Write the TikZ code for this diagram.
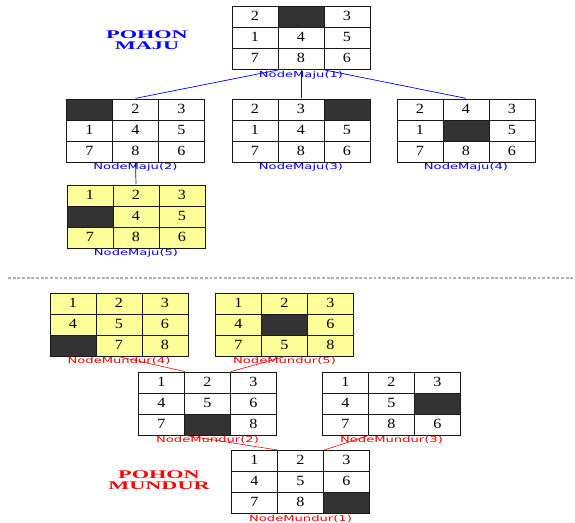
\documentclass[tikz,border=0pt]{standalone}
\usepackage{fontspec}
\setmainfont{Liberation Serif}
\newfontfamily\digitfont[FakeStretch=1.15]{Liberation Serif}
\newfontfamily\labelfont[FakeStretch=1.6]{DejaVu Sans}
\newfontfamily\titlefont[FakeStretch=1.9]{Liberation Serif}
\definecolor{puzyellow}{RGB}{255, 255, 153}
\definecolor{puzhole}{RGB}{51, 51, 51}
\definecolor{puzline}{RGB}{25, 25, 25}
\usetikzlibrary{matrix, positioning}
\tikzset{
  tile/.style = {
    rectangle,
    draw=puzline,
    fill=white,
    line width=0.7pt,
    minimum width=1.38cm,
    minimum height=0.63cm,
    text height=1.6ex,
    text depth=0.2ex,
    anchor=center,
    inner sep=0pt,
    font=\digitfont\fontsize{12}{13}\selectfont
  },
  hole/.style = {
    fill=puzhole
  },
  board/.style = {
    matrix of nodes,
    nodes={tile},
    column sep=-0.7pt,
    row sep=-0.7pt,
    inner sep=0pt
  },
  goalboard/.style = {
    board,
    nodes={fill=puzyellow}
  },
  majulabel/.style = {
    text=blue,
    font=\labelfont\fontsize{7}{7.5}\selectfont,
    inner sep=0.6pt
  },
  mundlabel/.style = {
    text=red,
    font=\labelfont\fontsize{7}{7.5}\selectfont,
    inner sep=0.6pt
  },
  majuedge/.style = {
    draw=blue,
    line width=0.6pt
  },
  mundedge/.style = {
    draw=red,
    line width=0.5pt
  },
  treetitle/.style = {
    font=\titlefont\bfseries\fontsize{10}{9.5}\selectfont,
    align=center,
    inner sep=0pt
  }
}
\begin{document}
\begin{tikzpicture}[x=0.03cm, y=0.03cm]
  \useasboundingbox (0, 0) rectangle (575, -523);

  % Pohon maju
  \node[treetitle, text=blue] (majutitle) at (147, -40) {POHON\\MAJU};

  \matrix (m1) [board] at (301, -38) {
    2 & |[hole]| & 3 \\
    1 & 4 & 5 \\
    7 & 8 & 6 \\
  };
  \matrix (m2) [board] at (135.5, -130.5) {
    |[hole]| & 2 & 3 \\
    1 & 4 & 5 \\
    7 & 8 & 6 \\
  };
  \matrix (m3) [board] at (301, -130.5) {
    2 & 3 & |[hole]| \\
    1 & 4 & 5 \\
    7 & 8 & 6 \\
  };
  \matrix (m4) [board] at (466, -130.5) {
    2 & 4 & 3 \\
    1 & |[hole]| & 5 \\
    7 & 8 & 6 \\
  };
  \matrix (m5) [goalboard] at (136, -216.5) {
    1 & 2 & 3 \\
    |[hole]| & 4 & 5 \\
    7 & 8 & 6 \\
  };

  \node[majulabel, below=0pt of m1] (m1lbl) {NodeMaju(1)};
  \node[majulabel, below=0pt of m2] (m2lbl) {NodeMaju(2)};
  \node[majulabel, below=0pt of m3] (m3lbl) {NodeMaju(3)};
  \node[majulabel, below=0pt of m4] (m4lbl) {NodeMaju(4)};
  \node[majulabel, below=0pt of m5] (m5lbl) {NodeMaju(5)};

  \draw[majuedge] (m2.north) -- (m1-3-1.south east);
  \draw[majuedge] (m3.north) -- (m1.south);
  \draw[majuedge] (m4.north) -- (m1-3-2.south east);
  \draw[majuedge] (m5.north) -- (m2.south);

  % Pemisah
  \draw[gray!60, line width=1.2pt, dash pattern=on 2.5pt off 1.5pt] (8, -278) -- (575, -278);

  % Pohon mundur
  \node[treetitle, text=red] (mundtitle) at (159, -480) {POHON\\MUNDUR};

  \matrix (u4) [goalboard] at (119, -324.5) {
    1 & 2 & 3 \\
    4 & 5 & 6 \\
    |[hole]| & 7 & 8 \\
  };
  \matrix (u5) [goalboard] at (284.5, -324.5) {
    1 & 2 & 3 \\
    4 & |[hole]| & 6 \\
    7 & 5 & 8 \\
  };
  \matrix (u2) [board] at (207.5, -403.5) {
    1 & 2 & 3 \\
    4 & 5 & 6 \\
    7 & |[hole]| & 8 \\
  };
  \matrix (u3) [board] at (391.5, -403.5) {
    1 & 2 & 3 \\
    4 & 5 & |[hole]| \\
    7 & 8 & 6 \\
  };
  \matrix (u1) [board] at (300.5, -482) {
    1 & 2 & 3 \\
    4 & 5 & 6 \\
    7 & 8 & |[hole]| \\
  };

  \node[mundlabel, below=0pt of u1] (u1lbl) {NodeMundur(1)};
  \node[mundlabel, below=0pt of u2] (u2lbl) {NodeMundur(2)};
  \node[mundlabel, below=0pt of u3] (u3lbl) {NodeMundur(3)};
  \node[mundlabel, below=0pt of u4] (u4lbl) {NodeMundur(4)};
  \node[mundlabel, below=0pt of u5] (u5lbl) {NodeMundur(5)};

  \draw[mundedge] (u1-1-1.north east) -- (u2-3-1.south east);
  \draw[mundedge] (u1-1-2.north east) -- (u3-3-1.south east);
  \draw[mundedge] (u2-1-1.north east) -- (u4.south);
  \draw[mundedge] (u2-1-2.north east) -- (u5.south);
\end{tikzpicture}
\end{document}
